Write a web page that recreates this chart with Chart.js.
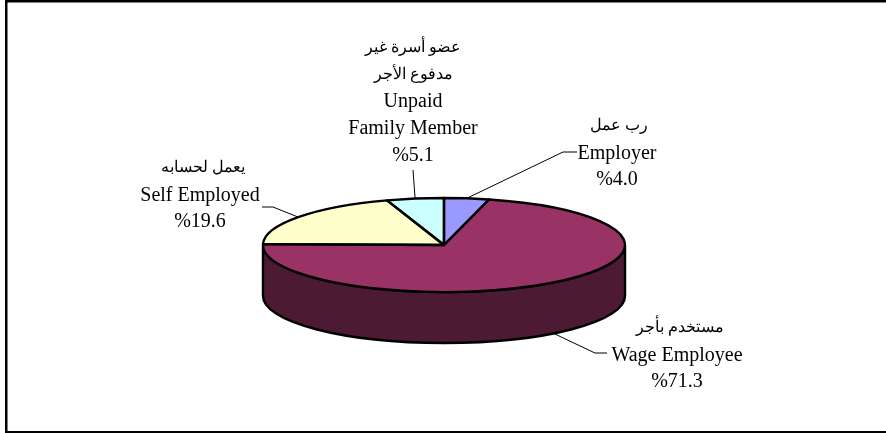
<!DOCTYPE html>
<html>
<head>
<meta charset="utf-8">
<style>html,body{margin:0;padding:0;background:#fff;overflow:hidden}canvas{display:block}</style>
<script src="https://cdn.jsdelivr.net/npm/chart.js@4"></script>
</head>
<body>
<canvas id="c" width="886" height="433"></canvas>
<script>
const categories = ['Employer', 'Wage Employee', 'Self Employed', 'Unpaid Family Member'];
const shares = [4.0, 71.3, 19.6, 5.1];
const sliceColors = ['#9999FF', '#993366', '#FFFFCC', '#CCFFFF'];
const wallColors = ['#4D4D80', '#4D1A33', '#808066', '#668080'];
const labelLines = [
  ['رب عمل', 'Employer', '%4.0'],
  ['مستخدم بأجر', 'Wage Employee', '%71.3'],
  ['يعمل لحسابه', 'Self Employed', '%19.6'],
  ['عضو أسرة غير', 'مدفوع الأجر', 'Unpaid', 'Family Member', '%5.1']
];
// centre x, first line y, leader elbow points
const labelLayout = [
  {x: 617, y: 125, arX: 619, leader: [[563, 152], [577, 152]]},
  {x: 677, y: 327, arX: 680, leader: [[595, 353], [607, 353]]},
  {x: 200, y: 167, arX: 203, leader: [[273, 207], [262, 207]]},
  {x: 413, y: 47,  arX: 413, leader: [[413, 170]]}
];
const TILT = 47 / 181, DEPTH = 51, LINE_H = 26.6, EDGE = 2.4;
const serif = '"Liberation Serif","Times New Roman",serif';

function ellipsePath(ctx, a, start, end, dy, ccw) {
  ctx.ellipse(a.x, a.y + dy, a.outerRadius, a.outerRadius * TILT, 0, start, end, !!ccw);
}
function norm(t) { const p = Math.PI * 2; return ((t % p) + p) % p; }

const pie3d = {
  id: 'pie3d',
  beforeDatasetsDraw(chart) {
    const ctx = chart.ctx, arcs = chart.getDatasetMeta(0).data;
    ctx.save();
    ctx.lineWidth = EDGE; ctx.strokeStyle = '#000'; ctx.lineJoin = 'round';
    arcs.forEach((a, i) => {
      // visible front wall: the part of the slice whose angle lies in [0, PI]
      [-Math.PI * 2, 0, Math.PI * 2].forEach(shift => {
        const from = Math.max(a.startAngle + shift, 0), to = Math.min(a.endAngle + shift, Math.PI);
        if (to <= from) return;
        ctx.beginPath();
        ellipsePath(ctx, a, from, to, 0);
        ellipsePath(ctx, a, to, from, DEPTH, true);
        ctx.closePath();
        ctx.fillStyle = wallColors[i];
        ctx.fill();
        ctx.stroke();
      });
    });
    const a0 = arcs[0];
    ctx.restore();
    ctx.save();
    ctx.translate(a0.x, a0.y); ctx.scale(1, TILT); ctx.translate(-a0.x, -a0.y);
  },
  afterDatasetsDraw(chart) {
    const ctx = chart.ctx, arcs = chart.getDatasetMeta(0).data;
    ctx.restore();
    ctx.save();
    ctx.lineWidth = EDGE; ctx.strokeStyle = '#000'; ctx.lineJoin = 'round';
    arcs.forEach(a => {
      ctx.beginPath();
      ctx.moveTo(a.x, a.y);
      ellipsePath(ctx, a, a.startAngle, a.endAngle, 0);
      ctx.closePath();
      ctx.stroke();
    });
    // leaders
    ctx.lineWidth = 1;
    arcs.forEach((a, i) => {
      const mid = (a.startAngle + a.endAngle) / 2;
      const px = a.x + a.outerRadius * Math.cos(mid);
      let py = a.y + a.outerRadius * TILT * Math.sin(mid);
      if (norm(mid) < Math.PI) py += DEPTH;
      ctx.beginPath();
      ctx.moveTo(px, py);
      labelLayout[i].leader.forEach(p => ctx.lineTo(p[0], p[1]));
      ctx.stroke();
    });
    // labels
    ctx.fillStyle = '#000';
    ctx.textAlign = 'center';
    ctx.textBaseline = 'middle';
    labelLines.forEach((lines, i) => {
      lines.forEach((t, j) => {
        const ar = /[\u0600-\u06FF]/.test(t);
        ctx.direction = ar ? 'rtl' : 'ltr';
        ctx.font = (ar ? '16px ' : '20px ') + serif;
        ctx.fillText(t, ar ? labelLayout[i].arX : labelLayout[i].x, labelLayout[i].y + j * LINE_H + (ar ? 1 : 2));
      });
    });
    ctx.direction = 'ltr';
    // frame
    ctx.fillStyle = '#000';
    ctx.fillRect(5, 0, 881, 2.5);
    ctx.fillRect(5, 0, 2.5, 433);
    ctx.fillRect(5, 431, 881, 2);
    ctx.restore();
  }
};

new Chart(document.getElementById('c'), {
  type: 'pie',
  data: {
    labels: categories,
    datasets: [{ data: shares, backgroundColor: sliceColors, borderWidth: 0 }]
  },
  options: {
    responsive: false,
    animation: false,
    layout: { padding: { left: 263, right: 261, top: 64, bottom: 7 } },
    plugins: { legend: { display: false }, tooltip: { enabled: false }, title: { display: false } }
  },
  plugins: [pie3d]
});
</script>
</body>
</html>
